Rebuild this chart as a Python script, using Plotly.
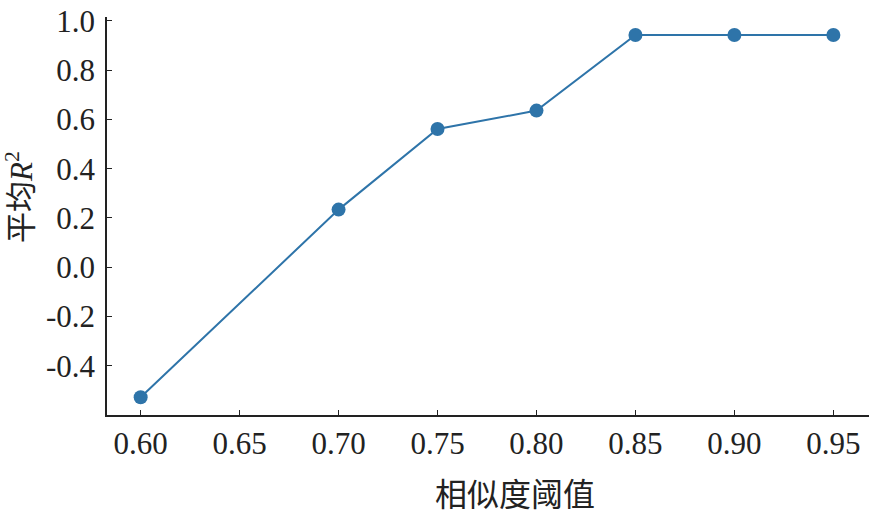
import plotly.graph_objects as go

thresholds = [0.60, 0.70, 0.75, 0.80, 0.85, 0.90, 0.95]
mean_r2 = [-0.528, 0.234, 0.561, 0.636, 0.943, 0.943, 0.943]
x_ticks = [0.60, 0.65, 0.70, 0.75, 0.80, 0.85, 0.90, 0.95]
x_tick_labels = ["0.60", "0.65", "0.70", "0.75", "0.80", "0.85", "0.90", "0.95"]
y_ticks = [-0.4, -0.2, 0.0, 0.2, 0.4, 0.6, 0.8, 1.0]
y_tick_labels = ["-0.4", "-0.2", "0.0", "0.2", "0.4", "0.6", "0.8", "1.0"]
x_title = "相似度阈值"
y_title = "平均<span style='font-family:Liberation Serif'><i>R</i><sup>2</sup></span>"

color = "#2e74a9"
serif = "Liberation Serif, Times New Roman, Noto Sans CJK SC, serif"
cjk = "Noto Sans CJK SC, Liberation Serif, serif"

fig = go.Figure()
fig.add_trace(go.Scatter(
    x=thresholds, y=mean_r2, mode="lines+markers",
    line=dict(color=color, width=2),
    marker=dict(color=color, size=14),
    showlegend=False,
))

axis_common = dict(
    showgrid=False, zeroline=False, showline=True, linecolor="#222222", linewidth=1.5,
    ticks="inside", ticklen=5, tickwidth=1.2, tickcolor="#222222", automargin=False,
    tickfont=dict(family=serif, size=31, color="#222222"),
)
fig.update_xaxes(range=[0.583, 0.968], tickvals=x_ticks, ticktext=x_tick_labels, ticklabelstandoff=0, **axis_common)
fig.update_yaxes(range=[-0.6, 1.016], tickvals=y_ticks, ticktext=y_tick_labels, ticklabelstandoff=4, **axis_common)

fig.add_annotation(text=x_title, xref="paper", yref="paper", x=(515 - 107) / 762, y=-(492 - 415) / 398,
                   showarrow=False, font=dict(family=cjk, size=32, color="#222222"),
                   xanchor="center", yanchor="middle")
fig.add_annotation(text=y_title, xref="paper", yref="paper", x=-(107 - 19) / 762, y=(415 - 197) / 398,
                   textangle=-90, showarrow=False, font=dict(family=cjk, size=31, color="#222222"),
                   xanchor="center", yanchor="middle")

fig.update_layout(
    width=876, height=510,
    margin=dict(l=107, r=7, t=17, b=95),
    plot_bgcolor="white", paper_bgcolor="white",
)
fig.write_html("out.html", config={"displayModeBar": False},
               post_script="document.body.style.margin='0px';document.body.style.overflow='hidden';")
